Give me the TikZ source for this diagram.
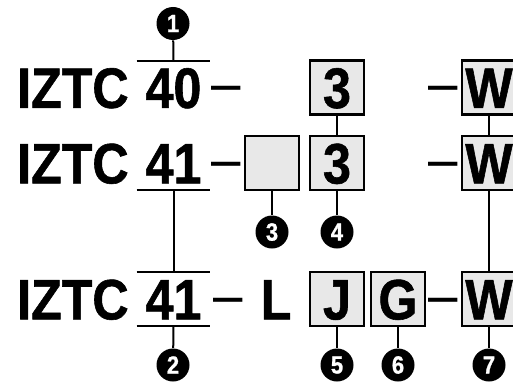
\documentclass[tikz,border=0pt]{standalone}
\usepackage{fontspec}
\setmainfont[FakeStretch=0.88, BoldFeatures={FakeBold=1}]{Liberation Sans}
\usepackage{tikz}
\definecolor{boxgray}{RGB}{232,232,232}
\tikzset{
  big/.style={font=\fontsize{28.5}{30}\selectfont\bfseries, inner sep=0pt, text height=20.4pt, text depth=0pt},
  code/.style={big, minimum width=36.5pt, minimum height=26.5pt},
  letterbox/.style={big, draw, fill=boxgray, line width=1.2pt, minimum size=27pt},
  dashmark/.style={font=\fontsize{30}{30}\selectfont, inner sep=0pt, anchor=base},
  callout/.style={circle, fill=black, text=white, minimum size=16.5pt, inner sep=0pt, font=\fontsize{12.5}{12.5}\selectfont\bfseries},
  wire/.style={line width=1pt}
}
\begin{document}
\begin{tikzpicture}[x=0.5pt,y=-0.5pt]
  \useasboundingbox (0,0) rectangle (513,385);
  % texts
  \node[big,anchor=east] at(129,87.5)(iztc1){IZTC};
  \node[big,anchor=east] at(129,163)(iztc2){IZTC};
  \node[big,anchor=east] at(129,299)(iztc3){IZTC};
  \node[code] at(173.5,87.5)(n40){40};
  \node[code] at(173.5,163)(n41a){41};
  \node[code] at(173.5,299)(n41b){41};
  \node[big] at(276,299)(suffL){L};
  % dashes
  \node[dashmark] at(226.5,104)(d1){--};
  \node[dashmark] at(226.5,179.5)(d2){--};
  \node[dashmark] at(228.5,315.5)(d3){--};
  \node[dashmark] at(443.5,104)(d4){--};
  \node[dashmark] at(443.5,179.5)(d5){--};
  \node[dashmark] at(443.5,315.5)(d6){--};
  % boxes
  \node[letterbox] at(272,163)(blank){};
  \node[letterbox] at(337,87.5)(b3a){3};
  \node[letterbox] at(337,163)(b3b){3};
  \node[letterbox] at(337,299)(bJ){J};
  \node[letterbox] at(398,299)(bG){G};
  \node[letterbox] at(489,87.5)(wa){W};
  \node[letterbox] at(489,163)(wb){W};
  \node[letterbox] at(489,299)(wc){W};
  % callouts
  \node[callout] at(173,23.5)(c1){1};
  \node[callout] at(173,365)(c2){2};
  \node[callout] at(272,232)(c3){3};
  \node[callout] at(337,232)(c4){4};
  \node[callout] at(337,365)(c5){5};
  \node[callout] at(398,365)(c6){6};
  \node[callout] at(489,365)(c7){7};
  % bars
  \draw[wire] (n40.north west) -- (n40.north east);
  \draw[wire] (n41a.south west) -- (n41a.south east);
  \draw[wire] (n41b.north west) -- (n41b.north east);
  \draw[wire] (n41b.south west) -- (n41b.south east);
  % leader lines
  \draw[wire] (c1) -- (n40.north);
  \draw[wire] (n41a.south) -- (n41b.north);
  \draw[wire] (n41b.south) -- (c2);
  \draw[wire] (blank.south) -- (c3);
  \draw[wire] (b3a.south) -- (b3b.north);
  \draw[wire] (b3b.south) -- (c4);
  \draw[wire] (bJ.south) -- (c5);
  \draw[wire] (bG.south) -- (c6);
  \draw[wire] (wa.south) -- (wb.north);
  \draw[wire] (wb.south) -- (wc.north);
  \draw[wire] (wc.south) -- (c7);
\end{tikzpicture}
\end{document}
